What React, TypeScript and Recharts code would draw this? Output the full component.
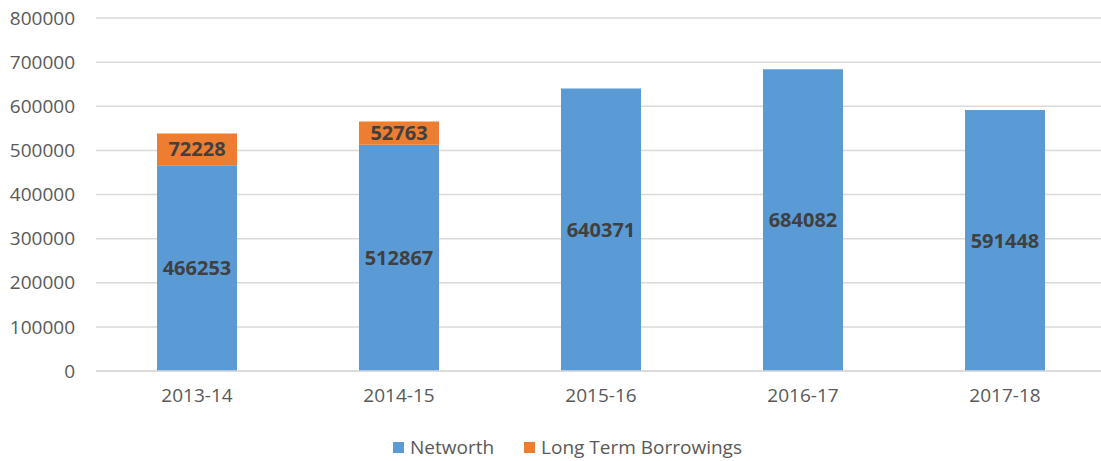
import React from "react";
import { BarChart, Bar, XAxis, YAxis, CartesianGrid, LabelList } from "recharts";

const years = ["2013-14", "2014-15", "2015-16", "2016-17", "2017-18"];
const networth = [466253, 512867, 640371, 684082, 591448];
const borrowings = [72228, 52763, null, null, null];
const yTicks = [0, 100000, 200000, 300000, 400000, 500000, 600000, 700000, 800000];

const data = years.map((year, i) => ({
  year,
  networth: networth[i],
  borrowings: borrowings[i],
}));

const FONT = "'Open Sans', sans-serif";

const legendItems = [
  { name: "Networth", color: "#5B9BD5" },
  { name: "Long Term Borrowings", color: "#ED7D31" },
];

export default function App() {
  return (
    <div style={{ position: "absolute", left: 0, top: 0, width: 1101, height: 461, overflow: "hidden", background: "#fff" }}>
      <BarChart
        width={1106}
        height={461}
        data={data}
        margin={{ top: 18, right: 0, bottom: 45, left: 0 }}
        barSize={80}
      >
        <CartesianGrid vertical={false} stroke="#D9D9D9" strokeWidth={1.5} />
        <XAxis
          dataKey="year"
          tickLine={false}
          axisLine={{ stroke: "#D9D9D9", strokeWidth: 1.5 }}
          tickSize={0}
          tickMargin={18}
          height={45}
          tick={{ fill: "#595959", fontSize: 19, fontFamily: FONT }}
        />
        <YAxis
          ticks={yTicks}
          domain={[0, 800000]}
          interval={0}
          width={96}
          tickLine={false}
          axisLine={false}
          tickSize={0}
          tickMargin={21}
          tick={{ fill: "#595959", fontSize: 19, fontFamily: FONT }}
        />
        <Bar dataKey="networth" name="Networth" stackId="a" fill="#5B9BD5" isAnimationActive={false}>
          <LabelList dataKey="networth" position="center" fill="#404040" fontSize={20} fontWeight="bold" fontFamily={FONT} />
        </Bar>
        <Bar dataKey="borrowings" name="Long Term Borrowings" stackId="a" fill="#ED7D31" isAnimationActive={false}>
          <LabelList dataKey="borrowings" position="center" fill="#404040" fontSize={20} fontWeight="bold" fontFamily={FONT} />
        </Bar>
      </BarChart>
      {/* legend */}
      <div
        style={{
          position: "absolute",
          left: 17,
          width: 1101,
          top: 434,
          display: "flex",
          justifyContent: "center",
          gap: 30,
          fontFamily: FONT,
          fontSize: 19,
          color: "#595959",
          lineHeight: "26px",
        }}
      >
        {legendItems.map((d) => (
          <div key={d.name} style={{ display: "flex", alignItems: "center", gap: 6 }}>
            <div style={{ width: 11, height: 11, background: d.color }} />
            <span>{d.name}</span>
          </div>
        ))}
      </div>
    </div>
  );
}
